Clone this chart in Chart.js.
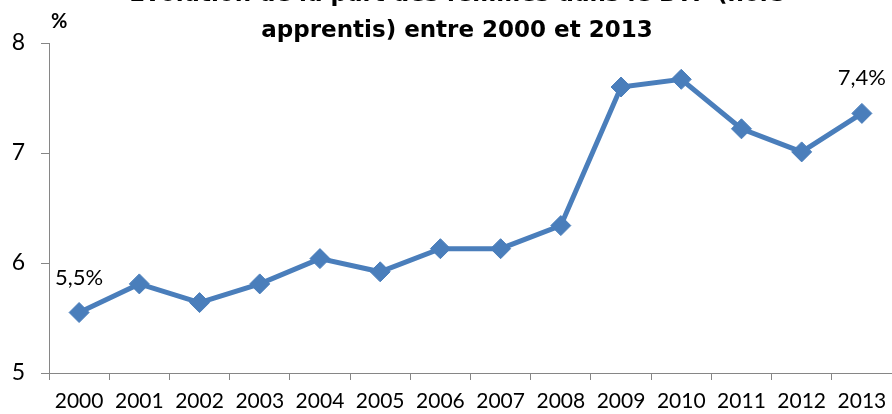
<!DOCTYPE html>
<html>
<head>
<meta charset="utf-8">
<script src="https://cdn.jsdelivr.net/npm/chart.js@4"></script>
<style>
  html, body { margin: 0; padding: 0; background: #fff; overflow: hidden; }
  #frame { width: 892px; height: 414px; overflow: hidden; position: relative; }
  #box { position: absolute; left: 0; top: -23px; width: 914px; height: 437px; }
</style>
</head>
<body>
<div id="frame"><div id="box"><canvas id="js-chart"></canvas></div></div>
<script>
const years = ["2000", "2001", "2002", "2003", "2004", "2005", "2006",
  "2007", "2008", "2009", "2010", "2011", "2012", "2013"];
const womenShare = [5.55, 5.81, 5.64, 5.81, 6.04, 5.92, 6.13,
  6.13, 6.34, 7.6, 7.67, 7.22, 7.01, 7.36];
const pointLabels = ["5,5%", "", "", "", "", "", "",
  "", "", "", "", "", "", "7,4%"];
const titleLines = ["Evolution de la part des femmes dans le BTP (hors",
  "apprentis) entre 2000 et 2013"];
const yTicks = [5, 6, 7, 8];
const unitLabel = "%";

const blue = "#4A7EBB";
const axisGrey = "#868686";
const font = "Lato";

// "%" above the y axis and the two value labels
const extras = {
  id: "extras",
  afterDatasetsDraw(chart) {
    const { ctx, chartArea } = chart;
    ctx.save();
    ctx.fillStyle = "#000";
    ctx.font = `bold 20px ${font}`;
    ctx.textAlign = "left";
    ctx.textBaseline = "alphabetic";
    ctx.fillText(unitLabel, chartArea.left + 2, chartArea.top - 15);

    ctx.font = `22px ${font}`;
    ctx.textAlign = "center";
    const meta = chart.getDatasetMeta(0);
    meta.data.forEach((pt, i) => {
      if (pointLabels[i]) ctx.fillText(pointLabels[i], pt.x, pt.y - 28);
    });
    ctx.restore();
  },
};

const chart = new Chart(document.getElementById("js-chart"), {
  type: "line",
  data: {
    labels: years,
    datasets: [{
      data: womenShare,
      borderColor: blue,
      backgroundColor: blue,
      borderWidth: 5,
      pointStyle: "rectRot",
      pointRadius: 10,
      pointBorderWidth: 1,
      pointBackgroundColor: blue,
      pointBorderColor: blue,
      tension: 0,
    }],
  },
  options: {
    responsive: true,
    maintainAspectRatio: false,
    animation: false,
    layout: { padding: 0, autoPadding: false },
    plugins: {
      legend: { display: false },
      tooltip: { enabled: false },
      title: {
        display: true,
        text: titleLines,
        color: "#000",
        font: { family: "DejaVu Sans", size: 23, weight: "bold", lineHeight: 35.5 / 23 },
        padding: { top: 0.75, bottom: -5.75 },
      },
    },
    scales: {
      x: {
        offset: true,
        grid: { display: true, drawOnChartArea: false, offset: true, color: axisGrey, tickLength: 7, lineWidth: 1 },
        border: { color: axisGrey, width: 1 },
        ticks: { color: "#000", font: { family: font, size: 21 }, padding: 9, maxRotation: 0, autoSkip: false },
        afterFit(scale) { scale.height = 41; },
      },
      y: {
        min: 5,
        max: 8,
        afterBuildTicks(scale) { scale.ticks = yTicks.map((v) => ({ value: v })); },
        grid: { display: true, drawOnChartArea: false, color: axisGrey, tickLength: 8, lineWidth: 1 },
        border: { color: axisGrey, width: 1 },
        ticks: { color: "#000", font: { family: font, size: 23 }, padding: 16 },
        afterFit(scale) { scale.width = 49; },
      },
      // empty right-hand margin, keeps the title centred like the original
      yRight: {
        position: "right",
        min: 5,
        max: 8,
        grid: { display: false },
        border: { display: false },
        ticks: { display: false },
        afterFit(scale) { scale.width = 22; },
      },
    },
  },
  plugins: [extras],
});
</script>
</body>
</html>
